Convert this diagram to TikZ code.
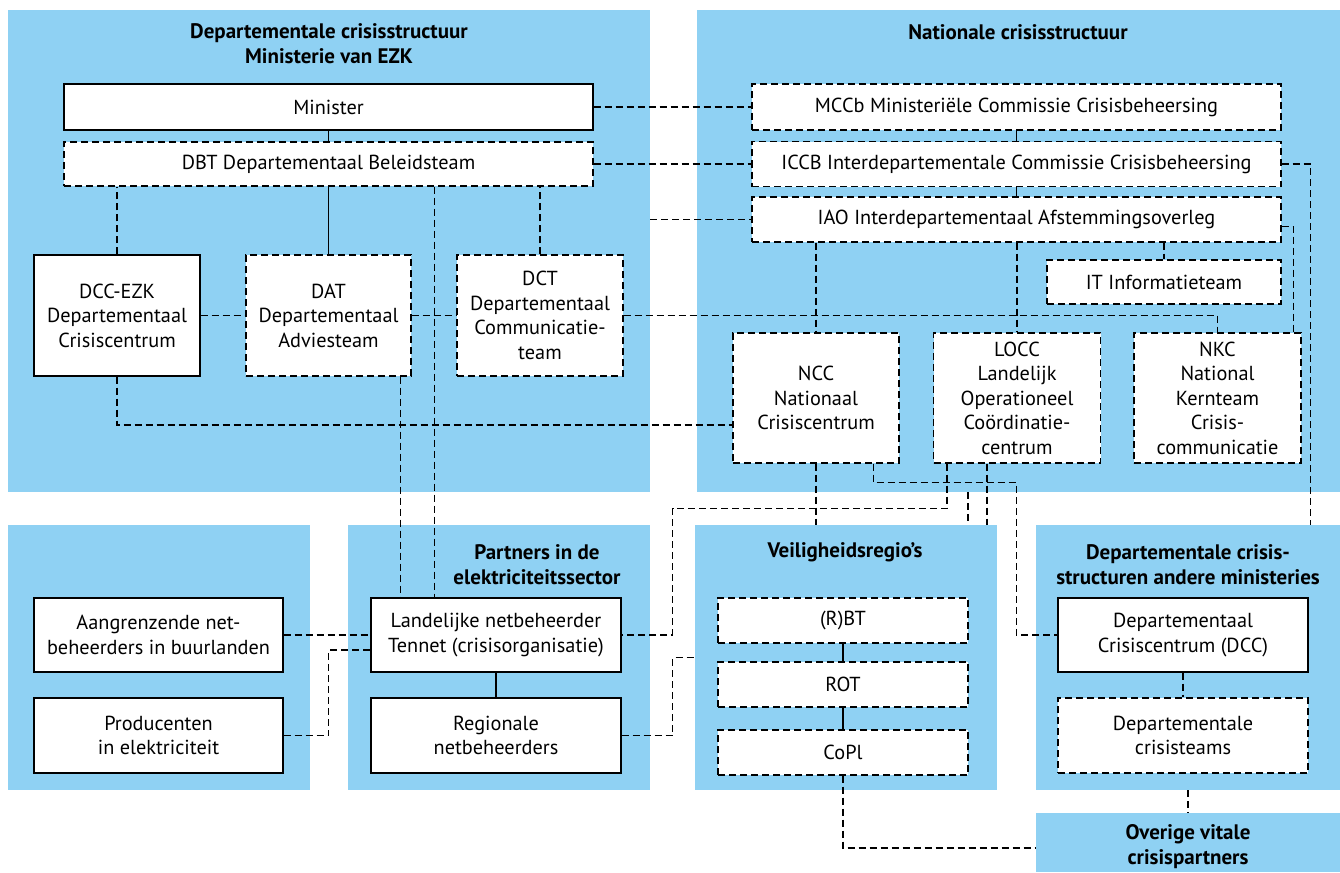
\documentclass[tikz,border=0pt]{standalone}
\usepackage{fontspec}
\setmainfont{PT Sans}
\definecolor{panelblue}{HTML}{8FD1F3}

\begin{document}
\begin{tikzpicture}[x=1pt, y=-1pt,
    panel/.style={fill=panelblue, inner sep=0pt},
    ptitle/.style={font=\fontsize{21}{25}\selectfont\bfseries, align=center},
    box/.style={draw, fill=white, line width=1.3pt, align=center, inner sep=0pt, font=\fontsize{20.3}{24.5}\selectfont},
    dbox/.style={box, dash pattern=on 7pt off 4pt},
    link/.style={line width=1.3pt},
    dlink/.style={link, dash pattern=on 7pt off 4pt}]
    \useasboundingbox (0,0) rectangle (1340,872);
    \node[panel, minimum width=642pt, minimum height=482pt] (pDept) at (329,251) {};
    \node[panel, minimum width=643pt, minimum height=482pt] (pNat) at (1018.5,251) {};
    \node[panel, minimum width=302pt, minimum height=265pt] (pBuur) at (159,657.5) {};
    \node[panel, minimum width=302pt, minimum height=265pt] (pPart) at (499,657.5) {};
    \node[panel, minimum width=302pt, minimum height=265pt] (pVeil) at (846,657.5) {};
    \node[panel, minimum width=304pt, minimum height=265pt] (pAnd) at (1188,657.5) {};
    \node[panel, minimum width=304pt, minimum height=59pt] (pOver) at (1188,842.5) {};
    \node[ptitle] (tDept) at (329,44) {Departementale crisisstructuur\\Ministerie van EZK};
    \node[ptitle] (tNat) at (1018,32) {Nationale crisisstructuur};
    \node[ptitle] (tPart) at (537,564.5) {Partners in de\\elektriciteitssector};
    \node[ptitle] (tVeil) at (845,552) {Veiligheidsregio’s};
    \node[ptitle] (tAnd) at (1188,564.5) {Departementale crisis-\\structuren andere ministeries};
    \node[ptitle] (tOver) at (1188,847) {Overige vitale\\crisispartners};
    \node[box, minimum width=529pt, minimum height=46pt] (Minister) at (328.5,107) {Minister};
    \node[dbox, minimum width=529pt, minimum height=44pt] (DBT) at (328.5,164) {DBT Departementaal Beleidsteam};
    \node[box, minimum width=166pt, minimum height=121pt] (DCCEZK) at (117,315.5) {DCC-EZK\\Departementaal\\Crisiscentrum};
    \node[dbox, minimum width=165pt, minimum height=121pt] (DAT) at (328.5,315.5) {DAT\\Departementaal\\Adviesteam};
    \node[dbox, minimum width=166pt, minimum height=121pt] (DCT) at (540,315.5) {DCT\\Departementaal\\Communicatie-\\team};
    \node[dbox, minimum width=529pt, minimum height=46pt] (MCCb) at (1016.5,107) {MCCb Ministeriële Commissie Crisisbeheersing};
    \node[dbox, minimum width=529pt, minimum height=45pt] (ICCB) at (1016.5,164) {ICCB Interdepartementale Commissie Crisisbeheersing};
    \node[dbox, minimum width=529pt, minimum height=45pt] (IAO) at (1016.5,219.5) {IAO Interdepartementaal Afstemmingsoverleg};
    \node[dbox, minimum width=234pt, minimum height=44pt] (IT) at (1164,282) {IT Informatieteam};
    \node[dbox, minimum width=166pt, minimum height=130pt] (NCC) at (816,398) {NCC\\Nationaal\\Crisiscentrum};
    \node[dbox, minimum width=167pt, minimum height=130pt] (LOCC) at (1017,398) {LOCC\\Landelijk\\Operationeel\\Coördinatie-\\centrum};
    \node[dbox, minimum width=167pt, minimum height=130pt] (NKC) at (1217.5,398) {NKC\\National\\Kernteam\\Crisis-\\communicatie};
    \node[box, minimum width=249pt, minimum height=74pt] (Aangr) at (158.5,635) {Aangrenzende net-\\beheerders in buurlanden};
    \node[box, minimum width=249pt, minimum height=75pt] (Prod) at (158.5,735.5) {Producenten\\in elektriciteit};
    \node[box, minimum width=250pt, minimum height=74pt] (Tennet) at (496,635) {Landelijke netbeheerder\\Tennet (crisisorganisatie)};
    \node[box, minimum width=250pt, minimum height=75pt] (Regio) at (496,735.5) {Regionale\\netbeheerders};
    \node[dbox, minimum width=250pt, minimum height=45pt] (RBT) at (843,620.5) {(R)BT};
    \node[dbox, minimum width=250pt, minimum height=45pt] (ROT) at (843,684.5) {ROT};
    \node[dbox, minimum width=250pt, minimum height=45pt] (CoPl) at (843,752.5) {CoPl};
    \node[box, minimum width=250pt, minimum height=74pt] (DCC) at (1183,635) {Departementaal\\Crisiscentrum (DCC)};
    \node[dbox, minimum width=250pt, minimum height=75pt] (DCteams) at (1183,735.5) {Departementale\\crisisteams};
    \coordinate (iaoIn) at (650,219.5);
      \draw[link] (Minister) -- (DBT);
      \draw[link] (DBT) -- (DAT);
      \draw[link] (MCCb) -- (ICCB);
      \draw[link] (ICCB) -- (IAO);
      \draw[link] (Tennet) -- (Regio);
      \draw[link] (RBT) -- (ROT);
      \draw[link] (ROT) -- (CoPl);
      \draw[dlink] (Minister) -- (MCCb);
      \draw[dlink] (DBT) -- (ICCB);
      \draw[dlink] (iaoIn) -- (IAO.west);
      \draw[dlink] (DCCEZK.north) -- (DCCEZK.north |- DBT.south);
      \draw[dlink] (DCT.north) -- (DCT.north |- DBT.south);
      \draw[dlink] ([xshift=64pt]Tennet.north west |- DBT.south) -- ([xshift=64pt]Tennet.north west);
      \draw[dlink] ([xshift=-11pt]DAT.south east) -- ([xshift=-11pt]DAT.south east |- Tennet.north);
      \draw[dlink] (DCCEZK) -- (DAT);
      \draw[dlink] (DAT) -- (DCT);
      \draw[dlink] (DCT.east) -| (NKC.north);
      \draw[dlink] (DCCEZK.south) |- ([yshift=-27pt]NCC.west);
      \draw[dlink] (IAO.south -| NCC.north) -- (NCC.north);
      \draw[dlink] (IAO.south -| LOCC.north) -- (LOCC.north);
      \draw[dlink] (IAO.south -| IT.north) -- (IT.north);
      \draw[dlink] ([yshift=-7pt]IAO.east) -| ([xshift=-8pt]NKC.north east);
      \draw[dlink] (ICCB.east) -| ([xshift=2pt]DCC.east |- pAnd.north);
      \draw[dlink] (NCC.south) -- (NCC.south |- pVeil.north);
      \draw[dlink] ([xshift=-26pt]NCC.south east) -- ++(0,19) -| ([xshift=-41pt]DCC.west) -- (DCC.west);
      \draw[dlink] ([xshift=14pt]LOCC.south west) -- ++(0,45) -| ([xshift=51pt]Tennet.east) -- (Tennet.east);
      \draw[dlink] ([xshift=-30pt]LOCC.south) -- ([xshift=-30pt]LOCC.south |- pVeil.north);
      \draw[dlink] ([xshift=-49pt]LOCC.south |- pNat.south) -- ([xshift=-49pt]LOCC.south |- pVeil.north);
      \draw[dlink] (Aangr) -- (Tennet);
      \draw[dlink] (Prod.east) -- ++(45,0) |- ([yshift=-15pt]Tennet.west);
      \draw[dlink] (Regio.east) -- ++(51,0) |- (pVeil.west);
      \draw[dlink] (CoPl.south) |- ([yshift=-5.5pt]pOver.west);
      \draw[dlink] (DCC) -- (DCteams);
      \draw[dlink] (pAnd.south) -- (pOver.north);
  \end{tikzpicture}
\end{document}
